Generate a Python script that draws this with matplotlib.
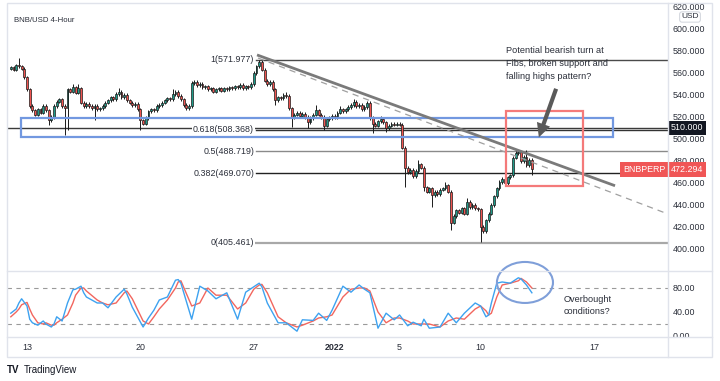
import matplotlib
matplotlib.use("Agg")
import matplotlib.pyplot as plt
from matplotlib.patches import Rectangle, Ellipse
from matplotlib.lines import Line2D
from matplotlib.transforms import Bbox, TransformedBbox
import numpy as np

plt.rcParams['font.family'] = ['Liberation Sans', 'DejaVu Sans']

# ---------------- data ----------------
# 4-hour candles; time in days relative to 13 Dec 2021 00:00
candle_start_day = -1.0
candle_step_day = 1 / 6
first_open = 564
closes = [
    565, 563, 567, 566, 564, 556, 545, 530, 526, 522,
    527, 524, 530, 526, 517, 520, 530, 534, 536, 530,
    528, 545, 543, 547, 542, 546, 533, 530, 532, 530,
    528, 530, 527, 528, 530, 533, 535, 538, 536, 541,
    543, 538, 540, 535, 533, 531, 532, 527, 517, 514,
    519, 525, 527, 526, 530, 531, 533, 535, 537, 536,
    541, 543, 539, 536, 531, 528, 530, 551, 552, 549,
    550, 547, 548, 545, 546, 543, 545, 546, 544, 546,
    545, 547, 546, 548, 547, 549, 546, 548, 547, 550,
    560, 566, 570, 563, 553, 550, 552, 545, 535, 538,
    537, 540, 539, 528, 520, 522, 524, 521, 523, 520,
    515, 519, 522, 526, 522, 520, 512, 518, 519, 521,
    520, 524, 527, 525, 527, 529, 531, 534, 530, 531,
    527, 529, 533, 519, 514, 512, 516, 518, 515, 510,
    512, 514, 513, 514, 513, 492, 474, 470, 472, 466,
    471, 477, 474, 456, 452, 455, 449, 452, 450, 454,
    455, 458, 452, 424, 430, 435, 433, 437, 432, 443,
    438, 440, 437, 436, 420, 416, 426, 432, 440, 448,
    455, 461, 464, 460, 465, 467, 483, 487, 488, 480,
    484, 476, 481, 472.294,
]
default_wick = 1.5
upper_wicks = {3: 7, 23: 3, 25: 4, 40: 3, 60: 4, 92: 2, 102: 3, 113: 5,
               122: 3, 127: 2, 137: 3, 151: 4, 161: 3, 169: 3, 187: 2, 191: 6}
lower_wicks = {14: 4, 20: 24, 21: 20, 31: 11, 48: 9, 98: 4, 104: 9, 110: 5,
               116: 4, 134: 9, 139: 4, 146: 18, 153: 3, 156: 11, 163: 7,
               174: 14, 193: 5}

# Fibonacci retracement
fib_ratios = ["1", "0.618", "0.5", "0.382", "0"]
fib_prices = [571.977, 508.368, 488.719, 469.070, 405.461]
fib_start_day = 14.14
fib_colors = ['#4a4a4a', '#333333', '#8a8a8a', '#222222', '#a8a8a8']
fib_widths = [1.0, 1.0, 1.0, 1.0, 1.6]

support_price = 510.0
support_zone = (-0.37, 36.17, 501.8, 519.1)    # day0, day1, low, high
focus_box = (29.57, 34.32, 457.3, 525.5)
trend_solid = ([14.2, 36.3], [576.4, 457.5])
trend_dashed = ([14.26, 39.57], [573.6, 431.8])
last_price = 472.294

# Stochastic (candle index, value)
k_idx = [0, 2, 3, 4, 6, 7, 8, 10, 12, 13, 15, 16, 17, 19, 21, 23, 24, 26, 27, 28,
         32, 34, 36, 39, 42, 43, 45, 49, 51, 53, 55, 58, 61, 62, 63, 67, 70, 73, 76, 80,
         84, 87, 90, 92, 93, 95, 99, 102, 106, 108, 112, 114, 117, 119, 123, 126, 129, 131, 133, 136,
         139, 142, 144, 147, 149, 152, 153, 155, 159, 162, 165, 168, 172, 174, 176, 177, 178, 180, 182, 185,
         188, 189, 191, 193]
k_val = [38, 45, 55, 62, 50, 28, 22, 18, 25, 20, 15, 20, 32, 25, 55, 77, 78, 83, 72, 65,
         55, 55, 47, 65, 78, 70, 48, 15, 30, 43, 60, 65, 93, 94, 88, 28, 83, 75, 62, 72,
         28, 73, 82, 88, 82, 55, 22, 22, 8, 27, 26, 38, 26, 43, 83, 73, 85, 78, 72, 13,
         38, 27, 35, 17, 23, 17, 28, 13, 15, 38, 22, 38, 55, 50, 32, 35, 55, 88, 90, 88,
         97, 95, 85, 72]
d_val = [32, 40, 45, 52, 56, 45, 35, 22, 20, 22, 18, 18, 22, 28, 35, 55, 68, 80, 80, 75,
         60, 55, 52, 55, 72, 75, 62, 25, 20, 32, 45, 60, 80, 90, 92, 50, 55, 80, 68, 68,
         45, 55, 78, 85, 86, 72, 32, 22, 15, 18, 25, 30, 32, 35, 65, 78, 80, 80, 75, 40,
         22, 30, 30, 25, 20, 20, 20, 20, 15, 25, 30, 28, 45, 50, 42, 35, 38, 65, 85, 88,
         92, 96, 90, 80]

price_ticks = list(range(400, 621, 20))
stoch_ticks = [0, 40, 80]
date_ticks = [0, 7, 14, 19, 23, 28, 35]
date_labels = ["13", "20", "27", "2022", "5", "10", "17"]

# ---------------- figure ----------------
W, H = 720, 381
fig = plt.figure(figsize=(W / 100, H / 100), dpi=100)
fig.patch.set_facecolor('white')

def fx(px):
    return px / W

def fy(py):
    return 1 - py / H

ax = fig.add_axes([fx(7), fy(271), fx(668) - fx(7), fy(3) - fy(271)])
ax2 = fig.add_axes([fx(7), fy(337), fx(668) - fx(7), fy(271) - fy(337)])

xlim = (-1.235, 39.57)
for a in (ax, ax2):
    a.set_xlim(*xlim)
    for s in a.spines.values():
        s.set_visible(False)
ax.set_ylim(380.0, 623.6)
ax2.set_ylim(-1.67, 108.3)

TXT = '#2a2e39'

# candles
n = len(closes)
days = candle_start_day + np.arange(n) * candle_step_day
opens = np.array([first_open] + closes[:-1], dtype=float)
cl = np.array(closes, dtype=float)
uw = np.array([upper_wicks.get(i, default_wick) for i in range(n)])
lw_ = np.array([lower_wicks.get(i, default_wick) for i in range(n)])
highs = np.maximum(opens, cl) + uw
lows = np.minimum(opens, cl) - lw_
up = cl >= opens
colors = np.where(up, '#1f9a88', '#ef5350')
ax.vlines(days, lows, highs, color='#1a1a1a', lw=0.7, zorder=3)
ax.bar(days, cl - opens, bottom=opens, width=0.12, color=colors,
       edgecolor='#1a1a1a', linewidth=0.5, zorder=4)

# support line & zone
ax.axhline(support_price, color='#3a3a3a', lw=1.0, zorder=2)
z0, z1, zl, zh = support_zone
ax.add_patch(Rectangle((z0, zl), z1 - z0, zh - zl, fill=False,
                       edgecolor='#7298e0', lw=1.6, zorder=5))

# fib lines
for r, p, c, w in zip(fib_ratios, fib_prices, fib_colors, fib_widths):
    ax.plot([fib_start_day, xlim[1]], [p, p], color=c, lw=w, zorder=2)
    ax.text(fib_start_day - 0.12, p, f"{r}({p:.3f})", ha='right', va='center',
            fontsize=6.4, color=TXT, zorder=6,
            bbox=dict(boxstyle='square,pad=0.1', fc='white', ec='none'))

# trend lines
ax.plot(*trend_solid, color='#7a7a7a', lw=2.0, solid_capstyle='butt', zorder=6)
ax.plot(*trend_dashed, color='#a0a0a0', lw=0.9, ls=(0, (5, 4)), zorder=5)

# focus box
f0, f1, fl, fh = focus_box
ax.add_patch(Rectangle((f0, fl), f1 - f0, fh - fl, fill=False,
                       edgecolor='#f47a7a', lw=1.6, zorder=7))

# annotation text and arrow
ax.text(29.57, 584.5, "Potential bearish turn at\nFibs, broken support and\nfalling highs pattern?",
        ha='left', va='top', fontsize=6.6, color=TXT, linespacing=1.55, zorder=8)
ax.annotate("", xy=(31.54, 499.1), xytext=(32.72, 548.0),
            arrowprops=dict(arrowstyle="simple,head_length=1.0,head_width=1.0,tail_width=0.3",
                            color='#5a5a5a', lw=0), zorder=8)

# price axis
ax.yaxis.tick_right()
ax.set_yticks(price_ticks)
ax.set_yticklabels([f"{v:.3f}" for v in price_ticks])
ax.tick_params(axis='y', length=0, pad=3.5, labelsize=6.4, labelcolor=TXT)
ax.set_xticks([])

# special price labels
trans = ax.get_yaxis_transform()
ax.text(1.0 + 2.5 / 661, support_price, f"{support_price:.3f}", transform=trans,
        ha='left', va='center', fontsize=6.4, color='white', zorder=10,
        bbox=dict(boxstyle='square,pad=0.3', fc='#131722', ec='none'))
ax.text(1.0 + 2.5 / 661, last_price, f"{last_price:.3f}", transform=trans,
        ha='left', va='center', fontsize=6.4, color='white', zorder=10,
        bbox=dict(boxstyle='square,pad=0.3', fc='#f05656', ec='none'))
ax.text(1.0 - 3 / 661, last_price, "BNBPERP", transform=trans,
        ha='right', va='center', fontsize=6.4, color='white', zorder=10,
        bbox=dict(boxstyle='square,pad=0.3', fc='#f05656', ec='none'))
fig.text(fx(690), fy(17), "USD", ha='center', va='center', fontsize=6.0, color=TXT,
         bbox=dict(boxstyle='round,pad=0.2,rounding_size=0.3', fc='white', ec='#d6d9e0', lw=0.8),
         zorder=12)

# title
fig.text(fx(14), fy(21), "BNB/USD 4-Hour", ha='left', va='center', fontsize=5.6, color=TXT)

# stochastic
k_days = candle_start_day + np.array(k_idx) * candle_step_day
ax2.plot(k_days, k_val, color='#3da2f0', lw=1.0, zorder=3)
ax2.plot(k_days, d_val, color='#f2665e', lw=1.0, zorder=2)
for lvl in (80, 20):
    ax2.axhline(lvl, color='#9a9a9a', lw=0.8, ls=(0, (4, 4)), zorder=1)
ax2.yaxis.tick_right()
ax2.set_yticks(stoch_ticks)
ax2.set_yticklabels([f"{v:.2f}" for v in stoch_ticks])
ax2.tick_params(axis='y', length=0, pad=3.5, labelsize=6.4, labelcolor=TXT)
ax2.set_xticks(date_ticks)
ax2.set_xticklabels(date_labels)
ax2.tick_params(axis='x', length=0, pad=4.5, labelsize=6.4, labelcolor=TXT)
for lab in ax2.get_xticklabels():
    if lab.get_text() == "2022":
        lab.set_fontweight('bold')
# the "0.00" label is cut by the date axis, as in TradingView
clip_bb = TransformedBbox(Bbox([[0, fy(337)], [1, 1]]), fig.transFigure)
for lab in ax2.get_yticklabels():
    lab.set_clip_box(clip_bb)
    lab.set_clip_on(True)

ax2.add_patch(Ellipse((30.74, 89.2), 3.46, 68.3, fill=False, edgecolor='#7f9fd9',
                      lw=1.5, clip_on=False, zorder=6))
ax2.text(33.15, 69, "Overbought\nconditions?", ha='left', va='top', fontsize=6.6,
         color=TXT, linespacing=1.45, zorder=6)

# frame lines
bc = '#e0e3eb'
fig.add_artist(Rectangle((fx(7), fy(357)), fx(712) - fx(7), fy(3) - fy(357),
                         transform=fig.transFigure, fill=False, edgecolor=bc, lw=1.0))
fig.add_artist(Line2D([fx(668), fx(668)], [fy(357), fy(3)], color=bc, lw=1.0))
fig.add_artist(Line2D([fx(7), fx(712)], [fy(271), fy(271)], color=bc, lw=1.0))
fig.add_artist(Line2D([fx(7), fx(712)], [fy(337), fy(337)], color=bc, lw=1.0))

# logo
fig.text(fx(7), fy(370), "TV", ha='left', va='center', fontsize=7, fontweight='bold', color='#131722')
fig.text(fx(24), fy(370), "TradingView", ha='left', va='center', fontsize=7, color='#131722')

fig.savefig("out.png", dpi=100, facecolor='white')
